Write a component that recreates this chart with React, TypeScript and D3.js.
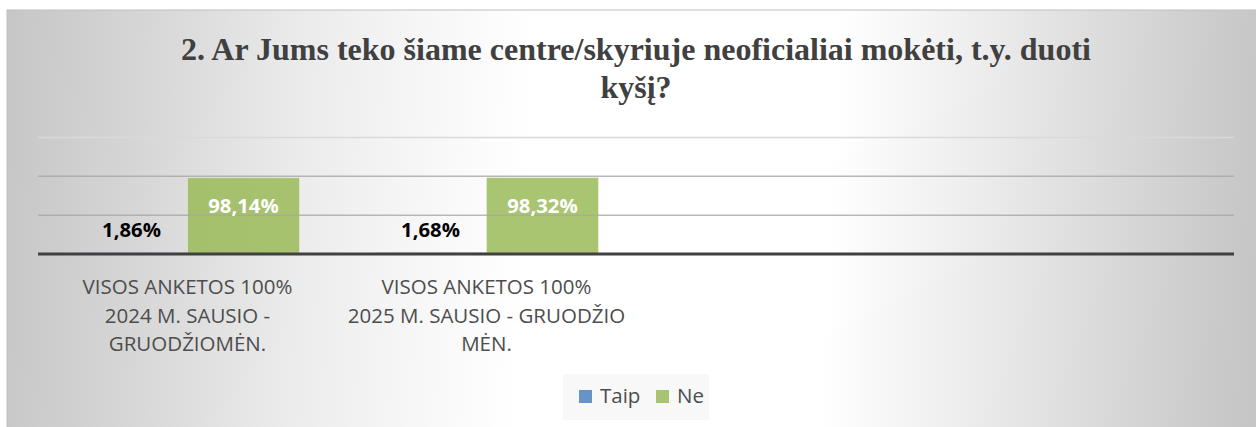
import React from "react";
import * as d3 from "d3";

const titleLines = [
  "2. Ar Jums teko šiame centre/skyriuje neoficialiai mokėti, t.y. duoti",
  "kyšį?",
];
const categories = ["c1", "c2", "c3", "c4"];
const categoryLabelLines = [
  ["VISOS ANKETOS 100%", "2024 M. SAUSIO -", "GRUODŽIOMĖN."],
  ["VISOS ANKETOS 100%", "2025 M. SAUSIO - GRUODŽIO", "MĖN."],
  [],
  [],
];
const seriesNames = ["Taip", "Ne"];
const taipValues = [1.86, 1.68, null, null];
const neValues = [98.14, 98.32, null, null];
const valueLabelsTaip = ["1,86%", "1,68%", "", ""];
const valueLabelsNe = ["98,14%", "98,32%", "", ""];
const yTicks = [0, 50, 100, 150];
const seriesColors = ["#4F81BD", "#9BBB59"];

const W = 1256;
const H = 427;

export default function App() {
  const x0 = d3.scaleBand<string>().domain(categories).range([38, 1234]).paddingInner(0).paddingOuter(0);
  const x1 = d3.scaleBand<string>().domain(seriesNames).range([0, x0.bandwidth()]).paddingInner(0).paddingOuter(0.335);
  const y = d3.scaleLinear().domain([0, 150]).range([254, 137.4]);
  const series = [taipValues, neValues];

  return (
    <div style={{ position: "absolute", left: 0, top: 0 }}>
      <svg width={W} height={H} style={{ display: "block" }}>
        <defs>
          <linearGradient id="bg" x1="7" y1="0" x2="1266" y2="60" gradientUnits="userSpaceOnUse">
            <stop offset="0" stopColor="#c6c6c6" />
            <stop offset="0.11" stopColor="#d6d6d6" />
            <stop offset="0.235" stopColor="#ebebeb" />
            <stop offset="0.33" stopColor="#f6f6f6" />
            <stop offset="0.42" stopColor="#ffffff" />
            <stop offset="0.66" stopColor="#ffffff" />
            <stop offset="0.79" stopColor="#eaeaea" />
            <stop offset="0.97" stopColor="#cacaca" />
            <stop offset="1" stopColor="#c6c6c6" />
          </linearGradient>
        </defs>
        <rect x={7} y={10} width={W} height={H} fill="url(#bg)" stroke="#bfbfbf" strokeWidth={1} />
        {/* title */}
        {titleLines.map((t, i) => (
          <text
            key={i}
            x={636}
            y={60 + i * 37.5}
            textAnchor="middle"
            fontFamily="'Liberation Serif', 'Times New Roman', serif"
            fontWeight="bold"
            fontSize={32}
            fill="#404040"
          >
            {t}
          </text>
        ))}
        {/* bars */}
        {categories.map((c, ci) =>
          series.map((vals, si) => {
            const v = vals[ci];
            if (v == null) return null;
            const bx = (x0(c) ?? 0) + (x1(seriesNames[si]) ?? 0);
            return (
              <rect
                key={c + si}
                x={bx}
                y={y(v)}
                width={x1.bandwidth()}
                height={y(0) - y(v)}
                fill={seriesColors[si]}
                fillOpacity={0.85}
                stroke="#ffffff"
                strokeOpacity={0.35}
                strokeWidth={1}
              />
            );
          })
        )}
        {/* gridlines */}
        {yTicks.slice(1).map((t) => (
          <line
            key={t}
            x1={38}
            x2={1234}
            y1={y(t)}
            y2={y(t)}
            stroke={t === 150 ? "#d9d9d9" : "#a6a6a6"}
            strokeOpacity={t === 150 ? 1 : 0.8}
            strokeWidth={1.5}
          />
        ))}
        <line x1={38} x2={1234} y1={y(0)} y2={y(0)} stroke="#404040" strokeWidth={3.2} />
        {/* data labels */}
        {categories.map((c, ci) => {
          const out: React.ReactNode[] = [];
          const tv = taipValues[ci];
          const nv = neValues[ci];
          if (tv != null) {
            out.push(
              <text
                key={c + "t"}
                x={(x0(c) ?? 0) + (x1("Taip") ?? 0) + x1.bandwidth() / 2}
                y={y(tv) - 16}
                textAnchor="middle"
                fontFamily="'Open Sans', sans-serif"
                fontWeight="bold"
                fontSize={20.3}
                fill="#000000"
              >
                {valueLabelsTaip[ci]}
              </text>
            );
          }
          if (nv != null) {
            out.push(
              <text
                key={c + "n"}
                x={(x0(c) ?? 0) + (x1("Ne") ?? 0) + x1.bandwidth() / 2}
                y={y(nv) + 35}
                textAnchor="middle"
                fontFamily="'Open Sans', sans-serif"
                fontWeight="bold"
                fontSize={20.3}
                fill="#ffffff"
              >
                {valueLabelsNe[ci]}
              </text>
            );
          }
          return out;
        })}
        {/* category labels */}
        {categories.map((c, ci) =>
          categoryLabelLines[ci].map((line, li) => (
            <text
              key={c + li}
              x={(x0(c) ?? 0) + x0.bandwidth() / 2}
              y={294.3 + li * 28.4}
              textAnchor="middle"
              fontFamily="'Open Sans', sans-serif"
              fontSize={20.5}
              fill="#4d4d4d"
            >
              {line}
            </text>
          ))
        )}
        {/* legend */}
        <rect x={563} y={374} width={146} height={46} fill="#f8f8f8" />
        {seriesNames.map((s, i) => {
          const lx = [579, 656][i];
          return (
            <g key={s}>
              <rect x={lx} y={390} width={13} height={13} fill={seriesColors[i]} fillOpacity={0.85} />
              <text
                x={lx + 21}
                y={403}
                fontFamily="'Open Sans', sans-serif"
                fontSize={20.5}
                fill="#4d4d4d"
              >
                {s}
              </text>
            </g>
          );
        })}
      </svg>
    </div>
  );
}
